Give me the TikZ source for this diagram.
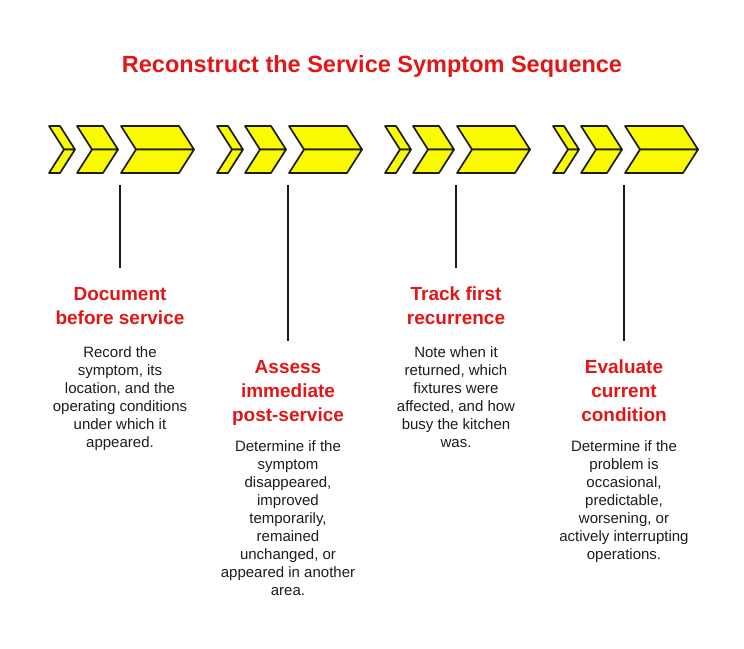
\documentclass[tikz,border=0pt]{standalone}
\usepackage{fontspec}
\setmainfont{Liberation Sans}
\usetikzlibrary{calc}
\definecolor{SignalRed}{RGB}{226,22,22}
\definecolor{ChevYellow}{RGB}{250,250,0}
\definecolor{InkBlack}{RGB}{28,28,28}
\tikzset{
  chev/.style     ={draw=InkBlack, fill=ChevYellow, line width=1.7pt, line join=round},
  stem/.style     ={draw=InkBlack, line width=1.8pt},
  headline/.style ={text=SignalRed, font=\fontsize{23.5}{28}\selectfont\bfseries, inner sep=0pt, anchor=base},
  steptitle/.style={text=SignalRed, font=\fontsize{19}{24}\selectfont\bfseries,
                    align=center, anchor=north, inner sep=0pt},
  stepbody/.style ={text=InkBlack, font=\fontsize{15}{18}\selectfont,
                    align=center, anchor=north, inner sep=0pt},
}

\begin{document}
\begin{tikzpicture}[x=1pt,y=-1pt]
  \useasboundingbox (0,0) rectangle (744,648);
  \node[headline] (head) at (372,72) {Reconstruct the Service Symptom Sequence};
  % chevron groups
  \foreach \dx in {0,168,336,504}{
    \foreach \l/\w in {49/11,77/26,121/58}{
      \draw[chev] ({\l+\dx},126) -- ({\l+\w+\dx},126) -- ({\l+\w+15+\dx},149.5)
                  -- ({\l+15+\dx},149.5) -- cycle;
      \draw[chev] ({\l+15+\dx},149.5) -- ({\l+\w+15+\dx},149.5) -- ({\l+\w+\dx},173)
                  -- ({\l+\dx},173) -- cycle;
    }
  }
  \coordinate (s1) at (120,185);
  \coordinate (s2) at (288,185);
  \coordinate (s3) at (456,185);
  \coordinate (s4) at (624,185);
  % step texts
  \node[steptitle] (t1) at (120,287) {Document\\before service};
  \node[stepbody]  (b1) at (120,346) {Record the\\symptom, its\\location, and the\\operating conditions\\under which it\\appeared.};
  \node[steptitle] (t2) at (288,360) {Assess\\immediate\\post-service};
  \node[stepbody]  (b2) at (288,440) {Determine if the\\symptom\\disappeared,\\improved\\temporarily,\\remained\\unchanged, or\\appeared in another\\area.};
  \node[steptitle] (t3) at (456,287) {Track first\\recurrence};
  \node[stepbody]  (b3) at (456,346) {Note when it\\returned, which\\fixtures were\\affected, and how\\busy the kitchen\\was.};
  \node[steptitle] (t4) at (624,360) {Evaluate\\current\\condition};
  \node[stepbody]  (b4) at (624,440) {Determine if the\\problem is\\occasional,\\predictable,\\worsening, or\\actively interrupting\\operations.};
  \foreach \i in {1,2,3,4}{\draw[stem] (s\i) -- ([yshift=19pt]t\i.north);}
\end{tikzpicture}
\end{document}
